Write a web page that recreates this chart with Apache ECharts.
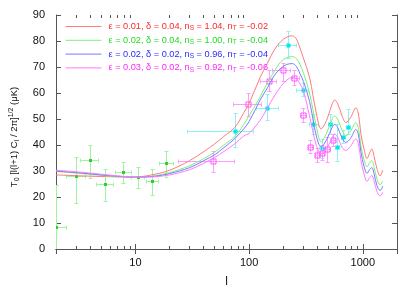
<!DOCTYPE html>
<html><head><meta charset="utf-8">
<script src="https://cdn.jsdelivr.net/npm/echarts@6/dist/echarts.min.js"></script>
<style>html,body{margin:0;padding:0;background:#fff}#c{width:419px;height:293px}</style>
</head><body><div id="c"></div>
<script>
// ---- tick labels ----
const xTickLabels = ['10', '100', '1000'];
const minorTicksL = [3,4,5,6,7,8,9,20,30,40,50,60,70,80,90,200,300,400,500,600,700,800,900];

// ---- model parameters (legend) ----
const eps   = ['0.01', '0.02', '0.02', '0.03'];
const delta = ['0.04', '0.04', '0.02', '0.02'];
const nS    = ['1.04', '1.00', '0.96', '0.92'];
const nT    = ['-0.02', '-0.04', '-0.04', '-0.06'];

// ---- theory curves: multipole l and T0[l(l+1)Cl/2pi]^1/2 (uK) ----
const curveL = [2,3,4,6,8,10,15,20,30,40,50,60,75,90,100,125,145,165,190,215,240,260,280,300,340,390,430,480,540,565,600,660,710,780,870,920,960,1030,1090,1150,1200,1260,1330,1420,1500];
const curveRed = [28.5,28.2,28.0,27.8,27.7,27.7,28.8,30.3,34,37.5,40.5,43.3,46.8,52.5,56,66,71.5,76.3,79.8,81.5,82,80.8,77.3,73.5,66,52.3,46.2,49.5,56,57.3,56,51,48.6,50.5,54.3,51.5,44.5,38,34.8,37,38.5,35.5,31,28.1,30.3];
const curveGreen = [29.8,29.2,28.7,28.0,27.7,27.6,28.2,29.4,32,34.8,37.3,40,43.3,48,51.3,58.5,64,68,72,73.6,74,73.3,71,67.8,60,47.2,41.2,44.5,50.2,51.1,50,45.5,43.6,45.3,48.6,46,40,34,31.6,33.2,34,31.3,27,24.7,26.1];
const curveBlue = [30,29.4,28.9,28.2,27.8,27.6,28,29,31.3,34,36.3,39,42.5,46.3,49,57.3,62,66.5,69.5,71,71.3,70.3,67.5,64.5,56.8,43.5,39.3,42,47,47.9,46.8,42.5,41,42.5,46,43.5,37.5,31.5,29.1,30.6,31.3,28.8,24.5,22.5,24.2];
const curveMagenta = [30.3,29.7,29.2,28.4,27.9,27.6,27.8,28.5,30.5,33,35.3,37.5,40.5,43.5,44.5,49.5,54.3,58.5,62.5,65,66,65.5,63.5,61,51.2,39.9,36.5,38.5,43,44.2,43,39,37.9,39.5,42.3,40,34.5,28.5,26,27.5,28.3,26,22.2,20.4,21.8];

// ---- measurements: [l, value, lLow, lHigh, valueLow, valueHigh] ----
const cobePoints = [
  [2, 8.4, 1.9, 2.45, 0, 24.5],
  [3, 27.9, 2.45, 3.65, 17.6, 35.1],
  [4, 33.9, 3.3, 4.7, 27, 39.8],
  [5.5, 25, 4.55, 6.4, 18.4, 30.4],
  [7.9, 29.4, 6.65, 9.2, 25.1, 33.1],
  [10.6, 27.6, 9.3, 12.1, 23.1, 31.4],
  [14.1, 26, 12.4, 15.9, 20.6, 30.4],
  [18.7, 32.9, 16.2, 21.8, 27.5, 37.5]
];
const cyanPoints = [
  [76, 45.1, 28.5, 110, 38.9, 52],
  [146, 54.2, 117, 183, 49.5, 59.5],
  [221, 78.1, 183, 261, 73.3, 83.7],
  [299, 61.1, 261, 335, 58.6, 63.6],
  [372, 47.9, 341, 408, 44.2, 51.7],
  [446, 38.8, 420, 470, 34.8, 42.3],
  [520, 47.9, 495, 545, 44.2, 51.7],
  [603, 39.2, 580, 630, 33.5, 47.9],
  [675, 42.9, 650, 700, 40.4, 45.4],
  [746, 46.9, 720, 775, 44.2, 53.6]
];
const magentaPoints = [
  [49, 33.8, 24, 74.5, 29.4, 37.6],
  [99, 55.7, 73.6, 128, 51.1, 59.9],
  [150, 64.3, 125, 175, 60.5, 68.6],
  [200, 68.6, 162, 229, 64.3, 71.2],
  [249, 65.5, 234, 279, 63, 68.5],
  [299, 51.5, 285, 318, 48.6, 54.2],
  [348, 39.2, 330, 370, 36.9, 41.7],
  [398, 36, 380, 415, 33.1, 38.5],
  [446, 36.9, 425, 465, 34, 39.8],
  [493, 38.1, 470, 515, 33.1, 42.9],
  [552, 41.9, 530, 575, 39.4, 44.2]
];

const lineColors = ['#ff7a7a', '#7cf07c', '#7a7aff', '#ff7aff'];
const textColors = ['#ff2a2a', '#22dd22', '#2a2aff', '#ff2aff'];
const curves = [curveRed, curveGreen, curveBlue, curveMagenta];
const seriesNames = ['m1', 'm2', 'm3', 'm4'];
const FONT = 'Liberation Sans, Arial, Helvetica, sans-serif';
const AX = '#555';

function r5(v) { return Math.round(v - 0.5) + 0.5; }

function errRender(opt) {
  return function (params, api) {
    const l = api.value(0), v = api.value(1);
    const p = api.coord([l, v]);
    const xl = api.coord([api.value(2), v])[0];
    const xh = api.coord([api.value(3), v])[0];
    const yl = api.coord([l, api.value(4)])[1];
    const yh = api.coord([l, api.value(5)])[1];
    const cx = r5(p[0]), cy = r5(p[1]);
    const c = 2;
    const ls = { stroke: opt.bar, lineWidth: 1 };
    const ch = [
      { type: 'line', shape: { x1: xl, y1: cy, x2: xh, y2: cy }, style: ls },
      { type: 'line', shape: { x1: r5(xl), y1: cy - c, x2: r5(xl), y2: cy + c }, style: ls },
      { type: 'line', shape: { x1: r5(xh), y1: cy - c, x2: r5(xh), y2: cy + c }, style: ls },
      { type: 'line', shape: { x1: cx, y1: yl, x2: cx, y2: yh }, style: ls },
      { type: 'line', shape: { x1: cx - c, y1: r5(yl), x2: cx + c, y2: r5(yl) }, style: ls },
      { type: 'line', shape: { x1: cx - c, y1: r5(yh), x2: cx + c, y2: r5(yh) }, style: ls }
    ];
    const s = opt.size;
    if (opt.filled) {
      ch.push({ type: 'rect', shape: { x: cx - s / 2, y: cy - s / 2, width: s, height: s }, style: { fill: opt.mark } });
    } else {
      ch.push({ type: 'rect', shape: { x: cx - s / 2, y: cy - s / 2, width: s, height: s }, style: { fill: 'none', stroke: opt.mark, lineWidth: 1 } });
    }
    return { type: 'group', children: ch };
  };
}

function minorRender(params, api) {
  const l = api.value(0);
  const b = api.coord([l, 0]);
  const t = api.coord([l, 90]);
  const x = r5(b[0]);
  const st = { stroke: AX, lineWidth: 1 };
  return { type: 'group', children: [
    { type: 'line', shape: { x1: x, y1: b[1], x2: x, y2: b[1] - 3 }, style: st },
    { type: 'line', shape: { x1: x, y1: t[1], x2: x, y2: t[1] + 3 }, style: st }
  ]};
}

const series = [];
series.push({ type: 'custom', name: 'cobe', renderItem: errRender({ bar: '#9ff59f', mark: '#33cc33', size: 3, filled: true }), data: cobePoints, clip: true, z: 2 });
series.push({ type: 'custom', name: 'cyan', renderItem: errRender({ bar: '#8ff2f2', mark: '#00e8f0', size: 4, filled: true }), data: cyanPoints, clip: true, z: 2 });
series.push({ type: 'custom', name: 'mag', renderItem: errRender({ bar: '#ff9cff', mark: '#ff55ff', size: 5, filled: false }), data: magentaPoints, clip: true, z: 2 });
curves.forEach((c, i) => {
  series.push({
    type: 'line', name: seriesNames[i], smooth: 0.35, symbol: 'none', showSymbol: false,
    data: curveL.map((l, k) => [l, c[k]]),
    lineStyle: { color: lineColors[i], width: 1 }, itemStyle: { color: lineColors[i] },
    z: 3, silent: true, animation: false
  });
});
series.push({ type: 'custom', name: 'minor', renderItem: minorRender, data: minorTicksL.map(l => [l, 0]), clip: false, z: 5, silent: true });

const chart = echarts.init(document.getElementById('c'), null, { renderer: 'canvas' });
chart.setOption({
  animation: false,
  backgroundColor: '#fff',
  grid: { left: 51, right: 22, top: 15, bottom: 39, containLabel: false },
  legend: {
    orient: 'vertical', left: 65, top: 21, padding: 0, itemWidth: 36, itemHeight: 2, itemGap: 2.8,
    data: seriesNames.map((n, i) => ({ name: n, textStyle: { color: textColors[i] } })),
    itemStyle: { opacity: 0 },
    lineStyle: { width: 1 },
    formatter: function (name) {
      const i = seriesNames.indexOf(name);
      return 'ε = ' + eps[i] + ', δ = ' + delta[i] + ', n{s|S} = ' + nS[i] + ', n{s|T} = ' + nT[i];
    },
    textStyle: { fontSize: 9.2, fontFamily: FONT, lineHeight: 11, padding: [0, 0, 0, 2], rich: { s: { fontSize: 6.5, lineHeight: 7, verticalAlign: 'bottom', fontFamily: FONT } } },
    selectedMode: false
  },
  xAxis: [{
    type: 'log', logBase: 10, min: 2, max: 2000, position: 'bottom',
    name: 'l', nameLocation: 'middle', nameGap: 27,
    nameTextStyle: { fontSize: 12, fontFamily: FONT, color: '#111' },
    axisLine: { lineStyle: { color: AX, width: 1 } },
    axisTick: { inside: true, length: 5, lineStyle: { color: AX } },
    axisLabel: { margin: 8, fontSize: 11, fontFamily: FONT, color: '#111',
      formatter: function (v) { const s = String(Math.round(v)); return xTickLabels.indexOf(s) >= 0 ? s : ''; } },
    splitLine: { show: false }, minorTick: { show: false }
  }, {
    type: 'log', logBase: 10, min: 2, max: 2000, position: 'top',
    axisLine: { lineStyle: { color: AX, width: 1 } },
    axisTick: { inside: true, length: 5, lineStyle: { color: AX } },
    axisLabel: { show: false }, splitLine: { show: false }
  }],
  yAxis: [{
    type: 'value', min: 0, max: 90, interval: 10, position: 'left',
    name: 'T{s|0} [l(l+1) C{s|l} / 2π]{p|1/2} (μK)', nameLocation: 'middle', nameGap: 35, nameRotate: 90,
    nameTextStyle: { fontSize: 9.5, fontFamily: FONT, color: '#111', lineHeight: 13, padding: [0, 10, 0, 0],
      rich: { s: { fontSize: 7, lineHeight: 7, verticalAlign: 'bottom', fontFamily: FONT, color: '#111' },
              p: { fontSize: 7, lineHeight: 7, verticalAlign: 'top', fontFamily: FONT, color: '#111' } } },
    axisLine: { show: true, lineStyle: { color: AX, width: 1 } },
    axisTick: { show: true, inside: true, length: 5, lineStyle: { color: AX } },
    axisLabel: { margin: 11, fontSize: 11, fontFamily: FONT, color: '#111' },
    splitLine: { show: false }
  }, {
    type: 'value', min: 0, max: 90, interval: 10, position: 'right',
    axisLine: { show: true, lineStyle: { color: AX, width: 1 } },
    axisTick: { show: true, inside: true, length: 5, lineStyle: { color: AX } },
    axisLabel: { show: false }, splitLine: { show: false }
  }],
  series: series
});
</script>
</body></html>
